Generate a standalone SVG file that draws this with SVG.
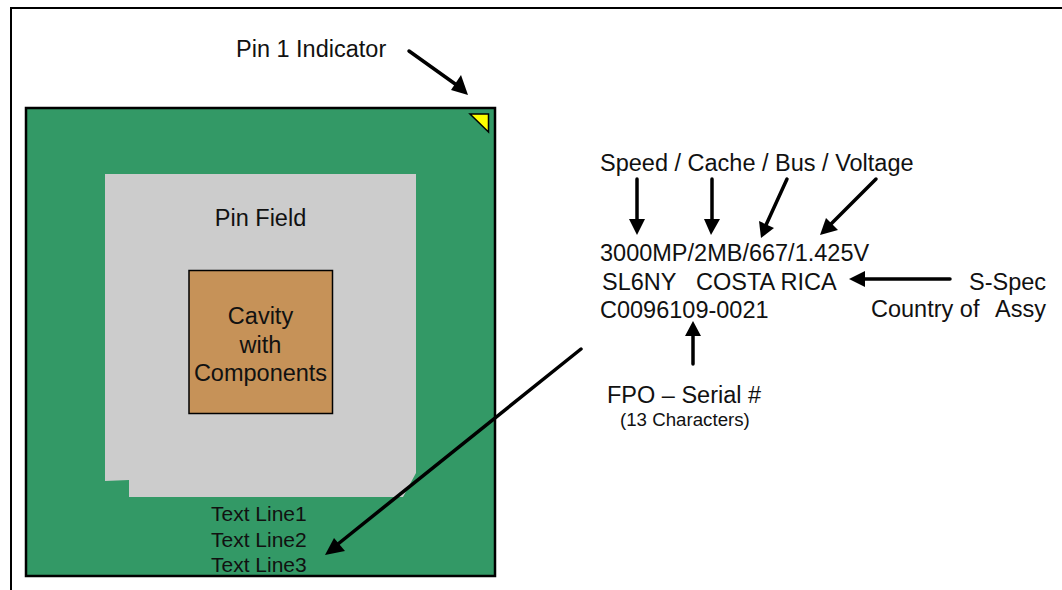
<svg xmlns="http://www.w3.org/2000/svg" width="1062" height="590" viewBox="0 0 1062 590">
<style>
text{font-family:"Liberation Sans",Arial,sans-serif;font-size:23.5px;fill:#111}
.m{text-anchor:middle}
.t{font-size:21px}
.s{font-size:18.7px}
.c{fill:none;stroke:#000;stroke-width:3.5;stroke-linecap:round}
.h{fill:#000;stroke:none}
</style>
<rect width="1062" height="590" fill="#fff"/>
<path d="M11 590V8H1062" fill="none" stroke="#000" stroke-width="2"/>
<g id="package">
<rect x="26" y="108" width="469" height="468" fill="#339966" stroke="#000" stroke-width="2.5"/>
</g>
<g id="pin1-marker"><path d="M470 114H488.500V132Z" fill="#ffff00" stroke="#000" stroke-width="1.500"/></g>
<g id="pin-field">
<path d="M105 174H416V473L403 497H129V480L105 481Z" fill="#cccccc" stroke="none"/>
<text class="m" x="260.500" y="226">Pin Field</text>
</g>
<g id="cavity">
<rect x="189" y="270.500" width="143.500" height="143" fill="#c69258" stroke="#000" stroke-width="1.500"/>
<text class="m" x="260.500" y="324">Cavity</text>
<text class="m" x="260.500" y="353">with</text>
<text class="m" x="260.500" y="381">Components</text>
</g>
<g id="text-lines">
<text class="t" x="211" y="521">Text Line1</text>
<text class="t" x="211" y="547">Text Line2</text>
<text class="t" x="211" y="572">Text Line3</text>
</g>
<g id="labels">
<text x="236" y="57">Pin 1 Indicator</text>
<text x="600" y="171">Speed / Cache / Bus / Voltage</text>
<text x="600" y="261">3000MP/2MB/667/1.425V</text>
<text x="602" y="290">SL6NY</text>
<text x="696" y="290">COSTA RICA</text>
<text x="600" y="318">C0096109-0021</text>
<text x="969" y="290">S-Spec</text>
<text x="871" y="317">Country of</text>
<text x="995" y="317">Assy</text>
<text x="607" y="403">FPO – Serial #</text>
<text class="s" x="620" y="426">(13 Characters)</text>
</g>
<g id="connectors">
<path class="c" d="M409 51L458 86"/><path class="h" d="M468 95L451 90L461 75Z"/>
<path class="c" d="M637 179V225"/><path class="h" d="M637 235L629 219H645Z"/>
<path class="c" d="M712 179V225"/><path class="h" d="M711 235L704 219H720Z"/>
<path class="c" d="M787 179L766 225"/><path class="h" d="M761 238L759 221L774 228Z"/>
<path class="c" d="M876 179L829 226"/><path class="h" d="M820 235L826 218L838 230Z"/>
<path class="c" d="M950 279H860"/><path class="h" d="M849 279L865 271V287Z"/>
<path class="c" d="M693 364V331"/><path class="h" d="M693 321L701 336H685Z"/>
<path class="c" d="M581 349L338 544"/><path class="h" d="M325 555L334 538L345 551Z"/>
</g>
</svg>
